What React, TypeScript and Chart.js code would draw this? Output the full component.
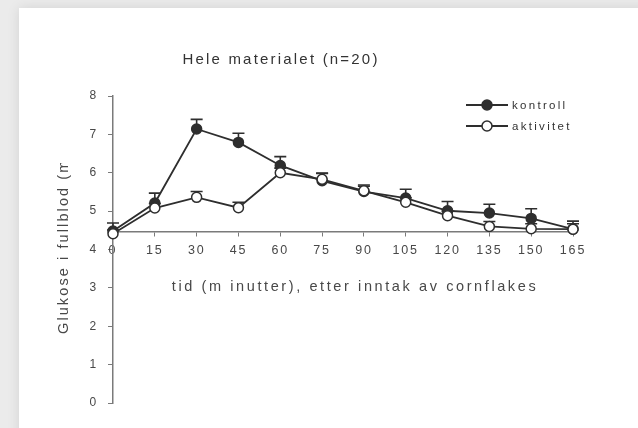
import React, { useEffect, useRef } from 'react';
import { Chart, registerables } from 'chart.js';

Chart.register(...registerables);

const chartTitle = 'Hele materialet (n=20)';
const xAxisTitle = 'tid (m inutter), etter inntak av cornflakes';
const yAxisTitle = 'Glukose i fullblod (m';
const kontrollLabel = 'kontroll';
const aktivitetLabel = 'aktivitet';

const times = [0, 15, 30, 45, 60, 75, 90, 105, 120, 135, 150, 165];
const kontroll = [4.48, 5.21, 7.14, 6.79, 6.19, 5.79, 5.51, 5.34, 5.01, 4.95, 4.81, 4.53];
const kontrollErr = [0.21, 0.26, 0.25, 0.24, 0.23, 0.2, 0.17, 0.23, 0.24, 0.23, 0.25, 0.21];
const aktivitet = [4.41, 5.08, 5.36, 5.09, 6.0, 5.83, 5.53, 5.23, 4.88, 4.6, 4.54, 4.53];
const aktivitetErr = [0.1, 0.12, 0.15, 0.14, 0.12, 0.15, 0.12, 0.12, 0.12, 0.13, 0.13, 0.14];

const yMin = 0;
const yMax = 8;
const xAxisAt = 4.47;

const FONT = '"Liberation Sans", Arial, Helvetica, sans-serif';
const INK = '#2e2e2e';
const AXIS = '#7a7a7a';
const TEXT = '#484848';

const errorBarsPlugin = {
  id: 'errorBars',
  beforeDatasetsDraw(chart: any) {
    const { ctx, scales } = chart;
    const xs = scales.x;
    const ys = scales.y;
    ctx.save();
    ctx.strokeStyle = INK;
    ctx.lineWidth = 1.6;
    chart.data.datasets.forEach((ds: any) => {
      const vals: number[] = ds.means;
      const errs: number[] = ds.errs;
      vals.forEach((v, i) => {
        const px = xs.getPixelForValue(times[i]);
        const p0 = ys.getPixelForValue(v);
        const p1 = ys.getPixelForValue(v + errs[i]);
        ctx.beginPath();
        ctx.moveTo(px, p0);
        ctx.lineTo(px, p1);
        ctx.moveTo(px - 6, p1);
        ctx.lineTo(px + 6, p1);
        ctx.stroke();
      });
    });
    ctx.restore();
  },
};

const textPlugin = {
  id: 'texts',
  beforeDraw(chart: any) {
    const ctx = chart.ctx;
    ctx.letterSpacing = '1.8px';
  },
  afterDraw(chart: any) {
    const ctx = chart.ctx;
    ctx.save();
    ctx.fillStyle = '#333';
    ctx.letterSpacing = '2.2px';
    ctx.font = `15px ${FONT}`;
    ctx.textAlign = 'center';
    ctx.textBaseline = 'middle';
    ctx.fillText(chartTitle, 281, 60);

    ctx.fillStyle = TEXT;
    ctx.font = `14.5px ${FONT}`;
    ctx.letterSpacing = '2.6px';
    ctx.fillText(xAxisTitle, 355, 287);

    // y title (clipped at top as in the scan)
    ctx.save();
    ctx.beginPath();
    ctx.rect(0, 163, 200, 250);
    ctx.clip();
    ctx.translate(64, 334);
    ctx.rotate(-Math.PI / 2);
    ctx.textAlign = 'left';
    ctx.font = `14.5px ${FONT}`;
    ctx.letterSpacing = '2.1px';
    ctx.fillText(yAxisTitle, 0, 0);
    ctx.restore();

    // legend
    const items = [
      { label: kontrollLabel, fill: INK, y: 105 },
      { label: aktivitetLabel, fill: '#ffffff', y: 126 },
    ];
    items.forEach((it) => {
      ctx.strokeStyle = INK;
      ctx.lineWidth = 1.8;
      ctx.beginPath();
      ctx.moveTo(466, it.y);
      ctx.lineTo(508, it.y);
      ctx.stroke();
      ctx.beginPath();
      ctx.arc(487, it.y, 5, 0, Math.PI * 2);
      ctx.fillStyle = it.fill;
      ctx.fill();
      ctx.lineWidth = 1.5;
      ctx.stroke();
      ctx.fillStyle = '#333';
      ctx.font = `11.5px ${FONT}`;
      ctx.letterSpacing = '2.3px';
      ctx.textAlign = 'left';
      ctx.textBaseline = 'middle';
      ctx.fillText(it.label, 512, it.y + 0.5);
    });
    ctx.restore();
  },
};

export default function App() {
  const canvasRef = useRef<HTMLCanvasElement | null>(null);

  useEffect(() => {
    const canvas = canvasRef.current;
    if (!canvas) return;
    const chart = new Chart(canvas, {
      type: 'line',
      data: {
        datasets: [
          {
            label: aktivitetLabel,
            data: times.map((t, i) => ({ x: t, y: aktivitet[i] })),
            means: aktivitet,
            errs: aktivitetErr,
            order: 0,
            clip: false,
            borderColor: INK,
            borderWidth: 1.8,
            pointRadius: 5,
            pointBorderWidth: 1.5,
            pointBackgroundColor: '#ffffff',
            pointBorderColor: INK,
            tension: 0,
            fill: false,
          } as any,
          {
            label: kontrollLabel,
            data: times.map((t, i) => ({ x: t, y: kontroll[i] })),
            means: kontroll,
            errs: kontrollErr,
            order: 1,
            clip: false,
            borderColor: INK,
            borderWidth: 1.8,
            pointRadius: 5,
            pointBorderWidth: 1.5,
            pointBackgroundColor: INK,
            pointBorderColor: INK,
            tension: 0,
            fill: false,
          } as any,
        ],
      },
      options: {
        responsive: false,
        animation: false,
        layout: { padding: { left: 0, top: 96, right: 65, bottom: 25 } },
        plugins: {
          legend: { display: false },
          title: { display: false },
          tooltip: { enabled: false },
        },
        scales: {
          x: {
            type: 'linear',
            min: 0,
            max: 165,
            position: { y: xAxisAt } as any,
            grid: { drawOnChartArea: false, drawTicks: true, tickLength: 4, color: AXIS },
            border: { color: AXIS, width: 1.5 },
            ticks: {
              stepSize: 15,
              padding: 8,
              color: TEXT,
              autoSkip: false,
              maxRotation: 0,
              font: { size: 12.5, family: FONT },
            },
          },
          y: {
            type: 'linear',
            min: yMin,
            max: yMax,
            grid: { drawOnChartArea: false, drawTicks: true, tickLength: 5, color: AXIS },
            border: { color: AXIS, width: 1.5 },
            ticks: {
              stepSize: 1,
              padding: 10,
              color: TEXT,
              font: { size: 12, family: FONT },
            },
            afterFit: (s: any) => {
              s.width = 113;
            },
          },
        },
      } as any,
      plugins: [errorBarsPlugin, textPlugin],
    });
    return () => chart.destroy();
  }, []);

  return (
    <div style={{ position: 'fixed', left: 0, top: 0, width: 638, height: 428, background: '#ebebeb', overflow: 'hidden' }}>
      <div
        style={{
          position: 'absolute',
          left: 19,
          top: 8,
          width: 640,
          height: 440,
          background: '#ffffff',
          boxShadow: '0 0 12px rgba(0,0,0,0.10)',
        }}
      />
      <canvas ref={canvasRef} width={638} height={428} style={{ position: 'absolute', left: 0, top: 0 }} />
    </div>
  );
}
